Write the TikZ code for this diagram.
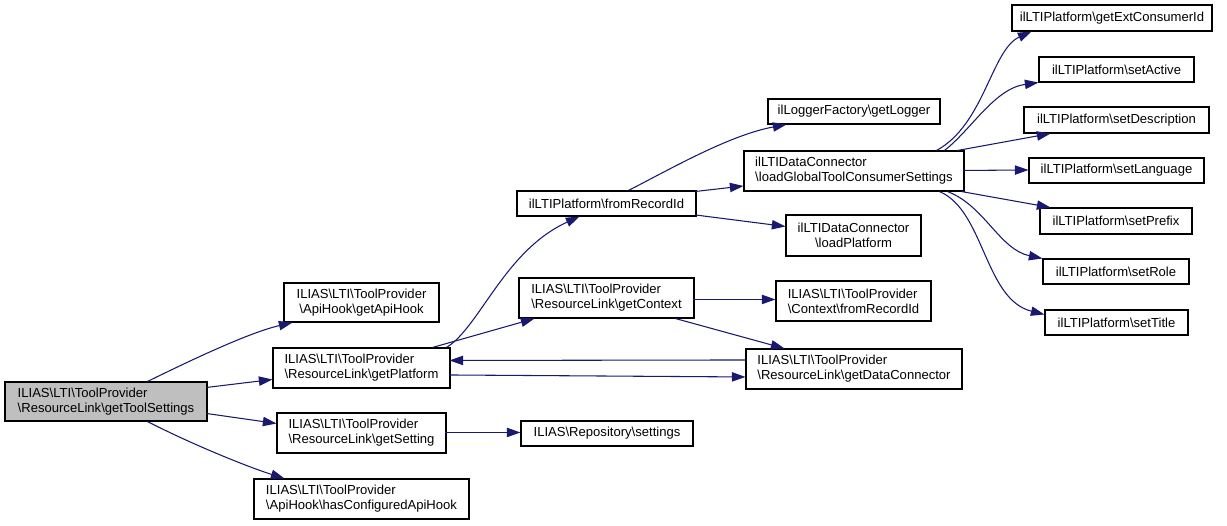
\documentclass[tikz,border=0pt]{standalone}
\usepackage{fontspec}
\setmainfont{Liberation Sans}
\usetikzlibrary{arrows.meta,calc}
\definecolor{edgeblue}{HTML}{191970}
\definecolor{rootgray}{HTML}{BFBFBF}
\newcommand{\bsl}{\textbackslash}
\begin{document}
\begin{tikzpicture}[x=0.75pt,y=-0.75pt,
  box/.style={draw=black, line width=0.8pt, fill=white, inner sep=0pt,
    font=\fontsize{9.8}{11.25}\selectfont, text=black},
  sz/.style 2 args={minimum width=#1*0.75pt, minimum height=#2*0.75pt},
  edge/.style={draw=edgeblue, line width=0.8pt, -{Triangle[length=10.2pt,width=7pt]}}]
\useasboundingbox[fill=white] (0,0) rectangle (1227,525);

% nodes
\node[box, fill=rootgray, sz={202}{39}, align=left] (A) at (106,401.5) {ILIAS\bsl LTI\bsl ToolProvider\\\bsl ResourceLink\bsl getToolSettings};
\node[box, sz={155}{39}, align=center] (B) at (361.5,302.5) {ILIAS\bsl LTI\bsl ToolProvider\\\bsl ApiHook\bsl getApiHook};
\node[box, sz={177}{40}, align=left] (C) at (361.5,368) {ILIAS\bsl LTI\bsl ToolProvider\\\bsl ResourceLink\bsl getPlatform};
\node[box, sz={169}{40}, align=left] (D) at (361.5,433) {ILIAS\bsl LTI\bsl ToolProvider\\\bsl ResourceLink\bsl getSetting};
\node[box, sz={215}{40}, align=left] (E) at (361.5,499) {ILIAS\bsl LTI\bsl ToolProvider\\\bsl ApiHook\bsl hasConfiguredApiHook};
\node[box, sz={179}{25}] (F) at (606.5,203.5) {ilLTIPlatform\bsl fromRecordId};
\node[box, sz={175}{40}, align=left] (G) at (606.5,298) {ILIAS\bsl LTI\bsl ToolProvider\\\bsl ResourceLink\bsl getContext};
\node[box, sz={172}{25}] (H) at (607,433.5) {ILIAS\bsl Repository\bsl settings};
\node[box, sz={172}{25}] (I) at (854,111.5) {ilLoggerFactory\bsl getLogger};
\node[box, sz={220}{40}, align=left] (J) at (854,171) {ilLTIDataConnector\\\bsl loadGlobalToolConsumerSettings};
\node[box, sz={135}{41}, align=center] (K) at (853.5,235.5) {ilLTIDataConnector\\\bsl loadPlatform};
\node[box, sz={155}{40}, align=left] (L) at (853.5,301) {ILIAS\bsl LTI\bsl ToolProvider\\\bsl Context\bsl fromRecordId};
\node[box, sz={216}{40}, align=left] (M) at (854,369) {ILIAS\bsl LTI\bsl ToolProvider\\\bsl ResourceLink\bsl getDataConnector};
\node[box, sz={200}{26}] (N) at (1112,18) {ilLTIPlatform\bsl getExtConsumerId};
\node[box, sz={155}{25}] (O) at (1116.5,69.5) {ilLTIPlatform\bsl setActive};
\node[box, sz={185}{26}] (P) at (1116.5,120) {ilLTIPlatform\bsl setDescription};
\node[box, sz={175}{25}] (Q) at (1116.5,170.5) {ilLTIPlatform\bsl setLanguage};
\node[box, sz={152}{26}] (R) at (1116,221) {ilLTIPlatform\bsl setPrefix};
\node[box, sz={146}{25}] (S) at (1116,271.5) {ilLTIPlatform\bsl setRole};
\node[box, sz={143}{25}] (T) at (1116.5,322.5) {ilLTIPlatform\bsl setTitle};

% edges
\draw[edge] ($(A.north west)+(143,0)$) .. controls +(47,-23) and +(-43,10) .. ($(B.south west)+(9,0)$);
\draw[edge] ($(A.north west)+(202,6)$) -- ($(C.north west)+(0,32)$);
\draw[edge] ($(A.north west)+(202,32)$) -- ($(D.north west)+(0,11)$);
\draw[edge] ($(A.south west)+(143,0)$) .. controls +(47,24) and +(-35,-11) .. ($(E.north west)+(31,0)$);

\draw[edge] ($(C.north west)+(174,0)$) .. controls +(33,-20) and +(-75,34) .. ($(F.south west)+(63,0)$);
\draw[edge] ($(C.north west)+(160,0)$) -- ($(G.south west)+(16,0)$);
\draw[edge] ($(C.north west)+(177,27.5)$) -- ($(M.north west)+(0,28.5)$);
\draw[edge] ($(M.north west)+(0,11.5)$) -- ($(C.north west)+(177,13)$);

\draw[edge] ($(D.north west)+(169,20)$) -- ($(H.north west)+(0,12)$);

\draw[edge] ($(F.north west)+(112,0)$) .. controls +(41,-21) and +(-57,10.5) .. ($(I.south west)+(19,0)$);
\draw[edge] ($(F.north west)+(179,1)$) -- ($(J.north west)+(0,35.5)$);
\draw[edge] ($(F.north west)+(179,24.5)$) -- ($(K.north west)+(0,12)$);

\draw[edge] ($(G.north west)+(175,22)$) -- ($(L.north west)+(0,19)$);
\draw[edge] ($(G.south west)+(157,0)$) -- ($(M.north west)+(39,0)$);

\draw[edge] ($(J.north west)+(193,0)$) .. controls +(48,-26) and +(-40,18) .. ($(N.south west)+(20,0)$);
\draw[edge] ($(J.north west)+(201,0)$) .. controls +(27,-21) and +(-44,6) .. (O.south west);
\draw[edge] ($(J.north west)+(214,0)$) -- ($(P.south west)+(27,0)$);
\draw[edge] ($(J.north west)+(220,20)$) -- ($(Q.north west)+(0,12.5)$);
\draw[edge] ($(J.south west)+(218,0)$) -- ($(R.north west)+(11,0)$);
\draw[edge] ($(J.south west)+(204,0)$) .. controls +(37,14) and +(-43,-9) .. (S.north west);
\draw[edge] ($(J.south west)+(196,0)$) .. controls +(45,19) and +(-60,-15) .. ($(T.north west)+(0,5)$);
\end{tikzpicture}
\end{document}
